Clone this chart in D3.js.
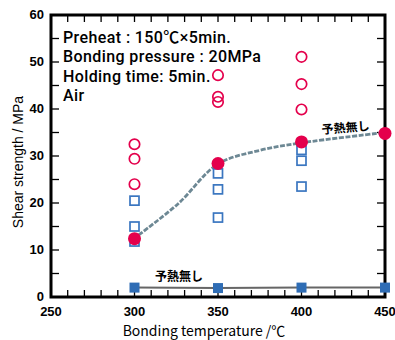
<!DOCTYPE html>
<html>
<head>
<meta charset="utf-8">
<script src="https://cdn.jsdelivr.net/npm/d3@7"></script>
<style>
  body { margin: 0; background: #fff; }
  svg { display: block; }
  .tick-label { font-family: "Liberation Sans", Arial, sans-serif; font-weight: bold; font-size: 13px; }
  .note { font-family: Roboto, "Noto Sans CJK JP", sans-serif; font-weight: 500; font-size: 16px; letter-spacing: 0.4px; }
</style>
</head>
<body>
<div id="chart"></div>
<script>
// preheated samples, individual measurements
const openCircleData = [
    [300, 32.5], [300, 29.4], [300, 24.0],
    [350, 47.2], [350, 42.6], [350, 41.5],
    [400, 51.1], [400, 45.3], [400, 39.9]
];
const openSquareData = [
    [300, 20.5], [300, 15.0], [300, 11.8],
    [350, 26.3], [350, 22.9], [350, 16.9],
    [400, 31.3], [400, 29.0], [400, 23.5]
];
// averages
const filledCircleData = [[300, 12.4], [350, 28.4], [400, 33.0], [450, 34.8]];
// no preheat
const noPreheatData = [[300, 2.0], [350, 1.9], [400, 2.0], [450, 2.0]];
// trend curve
const trendData = [[302.5, 13.2], [326, 19.8], [350, 28.3], [375, 31.2], [400, 32.8], [450, 35.0]];

const xTicks = [250, 300, 350, 400, 450];
const yTicks = [0, 10, 20, 30, 40, 50, 60];
const noteLines = ['Preheat : 150℃×5min.', 'Bonding pressure : 20MPa', 'Holding time: 5min.', 'Air'];

const width = 395, height = 340;
const margin = {top: 15, right: 10, bottom: 43, left: 51};

const svg = d3.select('#chart').append('svg')
    .attr('width', width)
    .attr('height', height);

const x = d3.scaleLinear().domain([250, 450]).range([margin.left, width - margin.right]);
const y = d3.scaleLinear().domain([0, 60]).range([height - margin.bottom, margin.top]);

const x0 = x.range()[0], x1 = x.range()[1];
const y0 = y.range()[0], y1 = y.range()[1];

// ticks inside the frame on all four sides
const xMinor = d3.range(250, 451, 10);
const yMinor = d3.range(0, 61, 5);
const tickG = svg.append('g').attr('stroke', '#000').attr('stroke-width', 1.3);
xMinor.forEach(v => {
    tickG.append('line').attr('x1', x(v)).attr('x2', x(v)).attr('y1', y0).attr('y2', y0 - 7);
    tickG.append('line').attr('x1', x(v)).attr('x2', x(v)).attr('y1', y1).attr('y2', y1 + 7);
});
yMinor.forEach(v => {
    tickG.append('line').attr('y1', y(v)).attr('y2', y(v)).attr('x1', x0).attr('x2', x0 + 8);
    tickG.append('line').attr('y1', y(v)).attr('y2', y(v)).attr('x1', x1).attr('x2', x1 - 8);
});

svg.append('rect')
    .attr('x', x0).attr('y', y1)
    .attr('width', x1 - x0).attr('height', y0 - y1)
    .attr('fill', 'none').attr('stroke', '#000').attr('stroke-width', 3);

// tick labels
svg.append('g').selectAll('text').data(xTicks).enter().append('text')
    .attr('class', 'tick-label')
    .attr('x', d => x(d)).attr('y', y0 + 19)
    .attr('text-anchor', 'middle')
    .text(d => d);

svg.append('g').selectAll('text').data(yTicks).enter().append('text')
    .attr('class', 'tick-label')
    .attr('x', x0 - 7).attr('y', d => y(d) + 4)
    .attr('text-anchor', 'end')
    .text(d => d);

// axis titles
svg.append('text')
    .attr('x', 204).attr('y', 336)
    .attr('text-anchor', 'middle')
    .style('font-family', '"Noto Sans CJK JP", sans-serif')
    .style('font-size', '14px')
    .text('Bonding temperature /℃');

svg.append('text')
    .attr('transform', 'translate(23,162) rotate(-90)')
    .attr('text-anchor', 'middle')
    .style('font-family', '"Liberation Sans", Arial, sans-serif')
    .style('font-size', '14px')
    .text('Shear strength / MPa');

// conditions note
svg.append('g').selectAll('text').data(noteLines).enter().append('text')
    .attr('class', 'note')
    .attr('x', 63).attr('y', (d, i) => 43 + i * 19.3)
    .text(d => d);

// trend curve
const curve = d3.line()
    .x(d => x(d[0]))
    .y(d => y(d[1]))
    .curve(d3.curveCatmullRom.alpha(0.5));

svg.append('path')
    .datum(trendData)
    .attr('d', curve)
    .attr('fill', 'none')
    .attr('stroke', '#6d8894')
    .attr('stroke-width', 2.8)
    .attr('stroke-dasharray', '5,1.6');

// no-preheat line
svg.append('path')
    .datum(noPreheatData)
    .attr('d', d3.line().x(d => x(d[0])).y(d => y(d[1])))
    .attr('fill', 'none')
    .attr('stroke', '#666')
    .attr('stroke-width', 2);

const sq = 9;
svg.append('g').selectAll('rect').data(openSquareData).enter().append('rect')
    .attr('x', d => x(d[0]) - sq / 2).attr('y', d => y(d[1]) - sq / 2)
    .attr('width', sq).attr('height', sq)
    .attr('fill', '#fff').attr('stroke', '#3a76c0').attr('stroke-width', 1.7);

svg.append('g').selectAll('circle').data(openCircleData).enter().append('circle')
    .attr('cx', d => x(d[0])).attr('cy', d => y(d[1])).attr('r', 5.2)
    .attr('fill', 'none').attr('stroke', '#e4004c').attr('stroke-width', 1.7);

svg.append('g').selectAll('circle').data(filledCircleData).enter().append('circle')
    .attr('cx', d => x(d[0])).attr('cy', d => y(d[1])).attr('r', 6.5)
    .attr('fill', '#e4004c');

const fsq = 10;
svg.append('g').selectAll('rect').data(noPreheatData).enter().append('rect')
    .attr('x', d => x(d[0]) - fsq / 2).attr('y', d => y(d[1]) - fsq / 2)
    .attr('width', fsq).attr('height', fsq)
    .attr('fill', '#2f6db5');

// labels
svg.append('text')
    .attr('x', 179).attr('y', 281)
    .attr('text-anchor', 'middle')
    .style('font-family', '"Noto Sans CJK JP", sans-serif')
    .style('font-weight', 'bold')
    .style('font-size', '12px')
    .text('予熱無し');

svg.append('text')
    .attr('transform', 'translate(346,132) rotate(-5)')
    .attr('text-anchor', 'middle')
    .style('font-family', '"Noto Sans CJK JP", sans-serif')
    .style('font-weight', 'bold')
    .style('font-size', '12px')
    .text('予熱無し');
</script>
</body>
</html>
